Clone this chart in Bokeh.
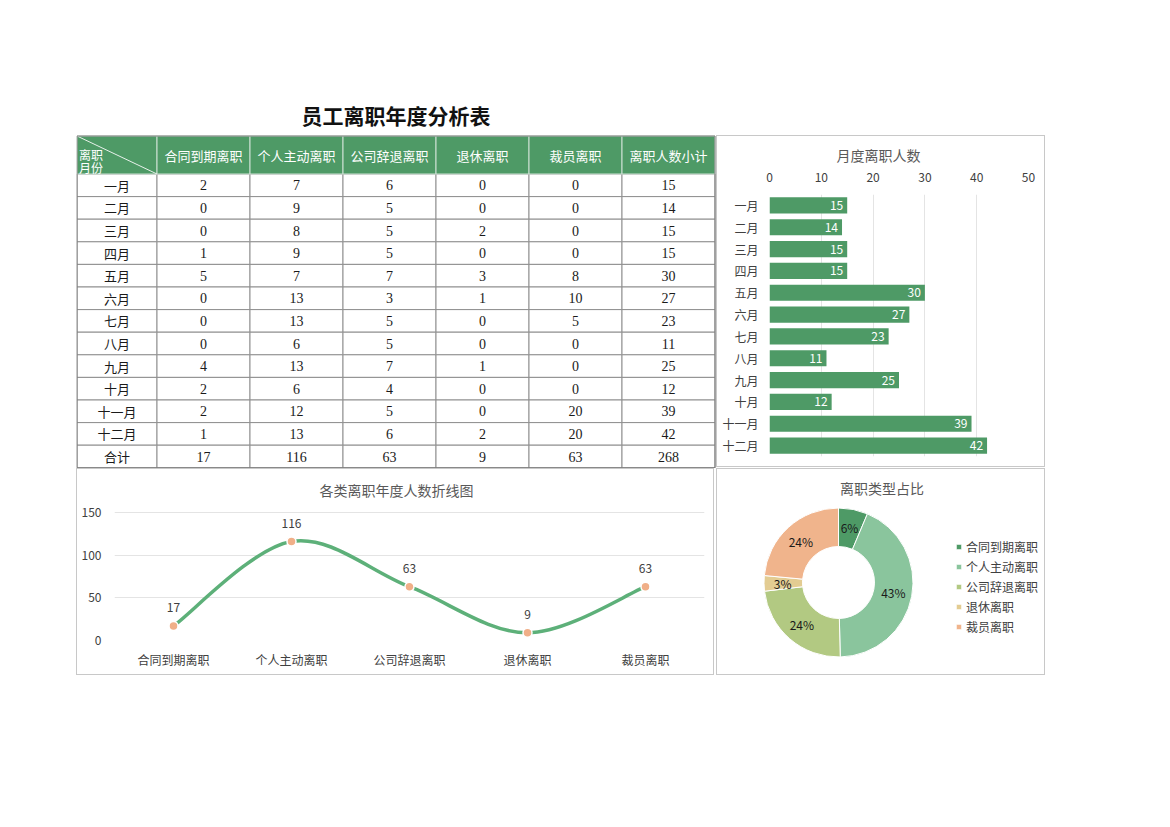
import math
from bokeh.plotting import figure
from bokeh.models import (Range1d, FactorRange, ColumnDataSource, FixedTicker, Legend,
                          LegendItem, Spacer, Title)
from bokeh.layouts import row, column
from bokeh.core.properties import value
from bokeh.embed import file_html
from bokeh.resources import INLINE

# ---------------- data ----------------
page_title = "员工离职年度分析表"
months = ["一月", "二月", "三月", "四月", "五月", "六月", "七月", "八月", "九月", "十月", "十一月", "十二月"]
total_label = "合计"
types = ["合同到期离职", "个人主动离职", "公司辞退离职", "退休离职", "裁员离职"]
subtotal_header = "离职人数小计"
contract = [2, 0, 0, 1, 5, 0, 0, 0, 4, 2, 2, 1]
voluntary = [7, 9, 8, 9, 7, 13, 13, 6, 13, 6, 12, 13]
dismissed = [6, 5, 5, 5, 7, 3, 5, 5, 7, 4, 5, 6]
retired = [0, 0, 2, 0, 3, 1, 0, 0, 1, 0, 0, 2]
layoff = [0, 0, 0, 0, 8, 10, 5, 0, 0, 0, 20, 20]
monthly_total = [15, 14, 15, 15, 30, 27, 23, 11, 25, 12, 39, 42]
type_total = [17, 116, 63, 9, 63]
grand_total = 268
bar_title = "月度离职人数"
line_title = "各类离职年度人数折线图"
donut_title = "离职类型占比"

# ---------------- styles ----------------
CJK = "Noto Sans CJK SC"
SERIF = "Liberation Serif"
GREEN = "#4E9A66"
LINE_GREEN = "#5DB079"
MARKER = "#F0AF88"
PIE_COLORS = ["#4E9A66", "#8AC59D", "#B2C982", "#E3CC92", "#F0B48C"]
TXT = "#404040"
TITLE_C = "#595959"
BOX = "1px solid #c8c8c8"

# ---------------- table ----------------
TW, TH = 640, 368
col_w = [80, 93, 93, 93, 93, 93, 93]
edges = [0.5]
for w in col_w:
    edges.append(edges[-1] + w)
T_TOP, HEAD_H, ROW_H = 35.5, 38, 22.6

tbl = figure(width=TW, height=TH, x_range=Range1d(0, TW), y_range=Range1d(TH, 0),
             x_axis_type=None, y_axis_type=None, output_backend="svg",
             toolbar_location=None, min_border=0, outline_line_color=None)
tbl.grid.visible = False

value_cols = [contract, voluntary, dismissed, retired, layoff, monthly_total]
totals_row = type_total + [grand_total]
row_labels = months + [total_label]

cl, cr, ct, cb = [], [], [], []
lab_x, lab_y, lab_t = [], [], []
num_x, num_y, num_t = [], [], []
for r in range(len(row_labels)):
    top = T_TOP + HEAD_H + r * ROW_H
    for c in range(len(col_w)):
        cl.append(edges[c]); cr.append(edges[c + 1]); ct.append(top); cb.append(top + ROW_H)
        cx = (edges[c] + edges[c + 1]) / 2
        cy = top + ROW_H / 2
        if c == 0:
            lab_x.append(cx); lab_y.append(cy); lab_t.append(row_labels[r])
        else:
            v = totals_row[c - 1] if r == len(months) else value_cols[c - 1][r]
            num_x.append(cx); num_y.append(cy); num_t.append(str(v))

tbl.quad(left=cl, right=cr, top=ct, bottom=cb, fill_color="white",
         line_color="#8f8f8f", line_width=1)
tbl.text(x=lab_x, y=lab_y, text=lab_t, text_font=value(CJK), text_font_size="13px",
         text_color="#1a1a1a", text_align="center", text_baseline="middle")
tbl.text(x=num_x, y=num_y, text=num_t, text_font=value(SERIF), text_font_size="14px",
         text_color="#1a1a1a", text_align="center", text_baseline="middle")

# header
headers = types + [subtotal_header]
tbl.quad(left=edges[:-1], right=edges[1:], top=[T_TOP] * len(col_w),
         bottom=[T_TOP + HEAD_H] * len(col_w), fill_color=GREEN, line_color="#cfe2d5")
tbl.text(x=[(edges[i] + edges[i + 1]) / 2 for i in range(1, len(col_w))],
         y=[T_TOP + HEAD_H / 2] * len(headers), text=headers, text_font=value(CJK),
         text_font_size="13px", text_color="white", text_align="center", text_baseline="middle")
tbl.segment(x0=[edges[0]], y0=[T_TOP], x1=[edges[1]], y1=[T_TOP + HEAD_H],
            line_color="#e8f1eb", line_width=1)
tbl.text(x=[edges[0] + 2, edges[0] + 2], y=[T_TOP + 18, T_TOP + 31], text=["离职", "月份"],
         text_font=value(CJK), text_font_size="12px", text_color="white",
         text_align="left", text_baseline="middle")
# outer border
tbl.quad(left=[edges[0]], right=[edges[-1]], top=[T_TOP],
         bottom=[T_TOP + HEAD_H + ROW_H * len(row_labels)], fill_color=None,
         line_color="#7a7a7a", line_width=1)
# page title
tbl.text(x=[(edges[0] + edges[-1]) / 2], y=[14], text=[page_title], text_font=value(CJK),
         text_font_size="21px", text_font_style="bold", text_color="#111111",
         text_align="center", text_baseline="middle")

# ---------------- bar chart ----------------
bar = figure(width=329, height=332, y_range=FactorRange(factors=months[::-1], range_padding=0),
             x_range=Range1d(0, 50), x_axis_location="above", output_backend="svg",
             toolbar_location=None, min_border_left=52, min_border_right=18,
             min_border_top=58, min_border_bottom=12, outline_line_color=None,
             styles={"border": BOX})
bar.title = Title(text=bar_title, align="left", offset=67, text_font=CJK,
                  text_font_size="14px", text_font_style="normal", text_color=TITLE_C)
bar.hbar(y=months, right=monthly_total, height=0.74, fill_color=GREEN, line_color=None)
bar.text(x=monthly_total, y=months, text=[str(v) for v in monthly_total], x_offset=-4,
         text_align="right", text_baseline="middle", text_font=value(CJK),
         text_font_size="12px", text_color="white")
bar.xaxis.ticker = FixedTicker(ticks=[0, 10, 20, 30, 40, 50])
for ax in (bar.xaxis, bar.yaxis):
    ax.axis_line_color = None
    ax.major_tick_line_color = None
    ax.minor_tick_line_color = None
    ax.major_label_text_font = CJK
    ax.major_label_text_font_size = "12px"
    ax.major_label_text_color = TXT
bar.xaxis.major_label_standoff = 7
bar.yaxis.major_tick_out = 0
bar.yaxis.major_label_standoff = 11
bar.xgrid.grid_line_color = "#e4e4e4"
bar.ygrid.grid_line_color = None

# ---------------- line chart ----------------
LW, LH = 638, 207
L_TOP_GAP = 43        # px between canvas top and the 150 gridline
L_PLOT_H = 128        # px between the 0 and 150 gridlines
L_LEFT, L_RIGHT = 37, 11
L_TITLE_UP = 23       # px that the title sits above the 150 gridline
Y_MAX = 150
lx = [i + 0.5 for i in range(len(types))]
y_top = Y_MAX * (L_PLOT_H + L_TOP_GAP) / L_PLOT_H
line = figure(width=LW, height=LH, x_range=Range1d(0, len(types)), y_range=Range1d(0, y_top),
              output_backend="svg", toolbar_location=None, min_border_left=L_LEFT,
              min_border_right=L_RIGHT, min_border_top=0,
              min_border_bottom=LH - L_TOP_GAP - L_PLOT_H, outline_line_color=None,
              styles={"border": BOX})
pts = list(zip(lx, type_total))
n = len(pts)
bz = {k: [] for k in ["x0", "y0", "x1", "y1", "cx0", "cy0", "cx1", "cy1"]}
for i in range(n - 1):
    p0 = pts[max(i - 1, 0)]; p1 = pts[i]; p2 = pts[i + 1]; p3 = pts[min(i + 2, n - 1)]
    bz["x0"].append(p1[0]); bz["y0"].append(p1[1])
    bz["x1"].append(p2[0]); bz["y1"].append(p2[1])
    bz["cx0"].append(p1[0] + (p2[0] - p0[0]) / 6); bz["cy0"].append(p1[1] + (p2[1] - p0[1]) / 6)
    bz["cx1"].append(p2[0] - (p3[0] - p1[0]) / 6); bz["cy1"].append(p2[1] - (p3[1] - p1[1]) / 6)
line.bezier(source=ColumnDataSource(bz), x0="x0", y0="y0", x1="x1", y1="y1", cx0="cx0",
            cy0="cy0", cx1="cx1", cy1="cy1", line_color=LINE_GREEN, line_width=3.5,
            line_cap="round")
line.scatter(x=lx, y=type_total, size=9, fill_color=MARKER, line_color="white", line_width=1.5)
line.text(x=lx, y=type_total, text=[str(v) for v in type_total], y_offset=-18,
          text_align="center", text_baseline="middle", text_font=value(CJK),
          text_font_size="12px", text_color=TXT)
# chart title, centred on the whole chart box
frame_w = LW - L_LEFT - L_RIGHT
title_x = (LW / 2 - L_LEFT) / frame_w * len(types)
line.text(x=[title_x], y=[Y_MAX + L_TITLE_UP * Y_MAX / L_PLOT_H], text=[line_title],
          text_align="center", text_baseline="middle", text_font=value(CJK),
          text_font_size="14px", text_color=TITLE_C)
line.yaxis.ticker = FixedTicker(ticks=[0, 50, 100, 150])
line.xaxis.ticker = FixedTicker(ticks=lx)
line.xaxis.major_label_overrides = {x: t for x, t in zip(lx, types)}
for ax in (line.xaxis, line.yaxis):
    ax.axis_line_color = None
    ax.major_tick_line_color = None
    ax.minor_tick_line_color = None
    ax.major_tick_out = 0
    ax.major_label_text_font = CJK
    ax.major_label_text_font_size = "12px"
    ax.major_label_text_color = TXT
line.xaxis.major_label_standoff = 10
line.yaxis.major_label_standoff = 13
line.ygrid.grid_line_color = "#e4e4e4"
line.xgrid.grid_line_color = None

# ---------------- donut ----------------
DW, DH = 329, 207
S = 74.5                   # px per unit radius
CXP, CYP = 121, 113        # donut centre, px from canvas left / top
donut = figure(width=DW, height=DH, x_range=Range1d(-CXP / S, (DW - CXP) / S),
               y_range=Range1d(-(DH - CYP) / S, CYP / S), x_axis_type=None, y_axis_type=None,
               output_backend="svg", toolbar_location=None, min_border=0,
               outline_line_color=None, styles={"border": BOX})
donut.grid.visible = False
tot = sum(type_total)
starts, ends, mids = [], [], []
cum = 0
for v in type_total:
    a0 = math.pi / 2 - cum / tot * 2 * math.pi
    cum += v
    a1 = math.pi / 2 - cum / tot * 2 * math.pi
    starts.append(a0); ends.append(a1); mids.append((a0 + a1) / 2)
wedges = donut.annular_wedge(x=0, y=0, inner_radius=36 / S, outer_radius=1.0,
                             start_angle=starts, end_angle=ends, direction="clock",
                             fill_color=PIE_COLORS, line_color="white", line_width=1)
R_LAB = 0.75
donut.text(x=[R_LAB * math.cos(a) for a in mids], y=[R_LAB * math.sin(a) for a in mids],
           text=[f"{round(v / tot * 100)}%" for v in type_total], text_align="center",
           text_baseline="middle", text_font=value(CJK), text_font_size="12px",
           text_color="#1a1a1a")
donut.text(x=[((DW - CXP) / S - CXP / S) / 2], y=[(CYP - 18) / S], text=[donut_title],
           text_align="center", text_baseline="middle", text_font=value(CJK),
           text_font_size="14px", text_color=TITLE_C)
items = [LegendItem(label=t, renderers=[wedges], index=i) for i, t in enumerate(types)]
legend = Legend(items=items, location=(238, 40), glyph_width=7, glyph_height=7,
                label_height=20, spacing=0, padding=0, margin=0, label_standoff=4,
                label_text_font=CJK, label_text_font_size="12px", label_text_color=TXT,
                background_fill_alpha=0, border_line_color=None)
donut.add_layout(legend)

# ---------------- layout ----------------
top_row = row(Spacer(width=76, height=368), tbl,
              column(Spacer(width=329, height=35), bar))
bottom_row = row(Spacer(width=76, height=207), line, Spacer(width=2, height=207),
                 column(donut))
layout = column(Spacer(width=1100, height=100), top_row, bottom_row)

open("out.html", "w").write(file_html(layout, INLINE))
